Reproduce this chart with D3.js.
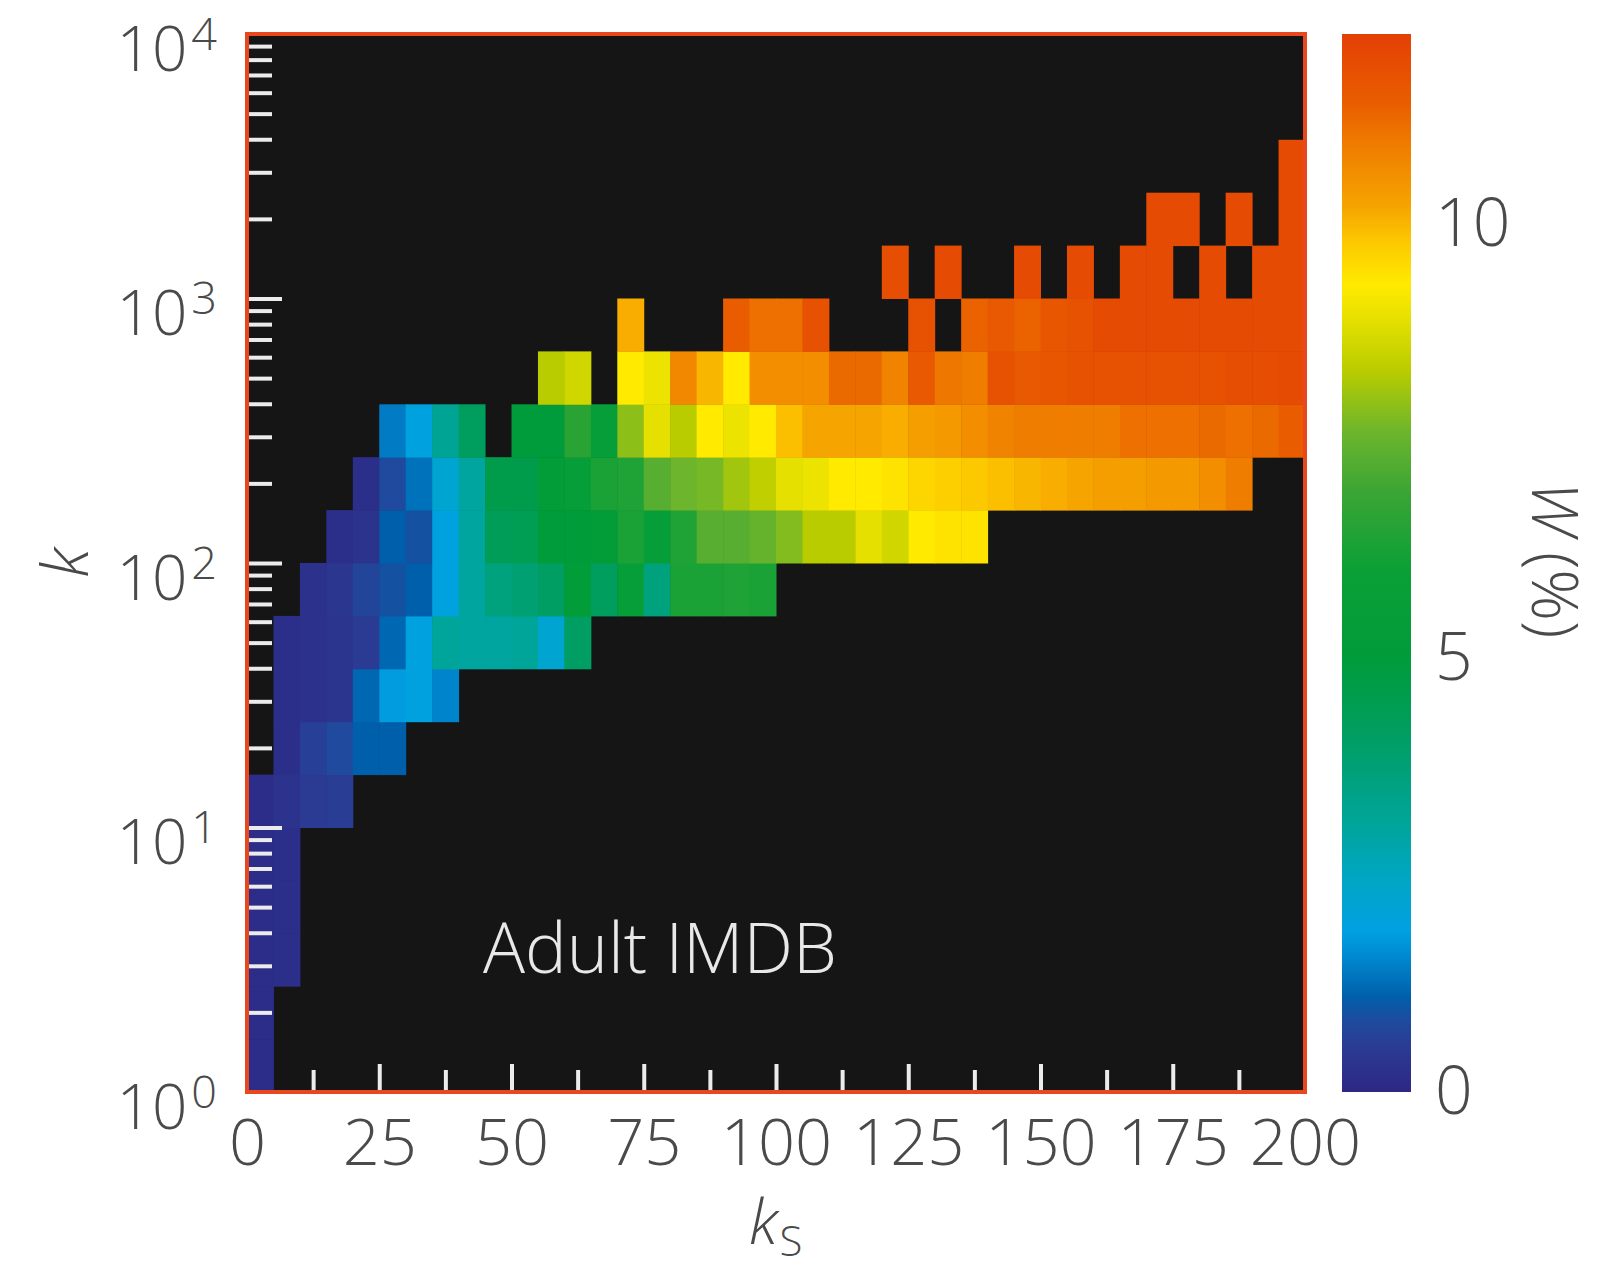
<!DOCTYPE html>
<html>
<head>
<meta charset="utf-8">
<script src="https://cdnjs.cloudflare.com/ajax/libs/d3/7.8.5/d3.min.js"></script>
<style>
  body { margin: 0; background: #fff; }
  svg text { font-family: "Open Sans", "Lato", sans-serif; }
</style>
</head>
<body>
<div id="chart"></div>
<script>
const _ = null;

// bin edges (k_S linear, k log in steps of 0.2 decade)
const ksEdges = [0, 5, 10, 15, 20, 25, 30, 35, 40, 45, 50, 55, 60, 65, 70, 75, 80, 85, 90, 95, 100,
  105, 110, 115, 120, 125, 130, 135, 140, 145, 150, 155, 160, 165, 170, 175, 180, 185, 190, 195, 200];
const kEdges = [1, 1.585, 2.512, 3.981, 6.310, 10, 15.85, 25.12, 39.81, 63.10, 100,
  158.5, 251.2, 398.1, 631.0, 1000, 1585, 2512, 3981, 6310, 10000];

// W (%) per cell, row 0 = lowest k bin, 40 k_S bins per row
const wGrid = [
  [0.15,_,_,_,_,_,_,_,_,_, _,_,_,_,_,_,_,_,_,_, _,_,_,_,_,_,_,_,_,_, _,_,_,_,_,_,_,_,_,_],
  [0.15,_,_,_,_,_,_,_,_,_, _,_,_,_,_,_,_,_,_,_, _,_,_,_,_,_,_,_,_,_, _,_,_,_,_,_,_,_,_,_],
  [0.15,0.2,_,_,_,_,_,_,_,_, _,_,_,_,_,_,_,_,_,_, _,_,_,_,_,_,_,_,_,_, _,_,_,_,_,_,_,_,_,_],
  [0.15,0.2,_,_,_,_,_,_,_,_, _,_,_,_,_,_,_,_,_,_, _,_,_,_,_,_,_,_,_,_, _,_,_,_,_,_,_,_,_,_],
  [0.15,0.2,_,_,_,_,_,_,_,_, _,_,_,_,_,_,_,_,_,_, _,_,_,_,_,_,_,_,_,_, _,_,_,_,_,_,_,_,_,_],
  [0.15,0.3,0.5,0.55,_,_,_,_,_,_, _,_,_,_,_,_,_,_,_,_, _,_,_,_,_,_,_,_,_,_, _,_,_,_,_,_,_,_,_,_],
  [_,0.2,0.6,0.8,1.1,1.1,_,_,_,_, _,_,_,_,_,_,_,_,_,_, _,_,_,_,_,_,_,_,_,_, _,_,_,_,_,_,_,_,_,_],
  [_,0.2,0.25,0.35,1.2,1.8,1.9,1.5,_,_, _,_,_,_,_,_,_,_,_,_, _,_,_,_,_,_,_,_,_,_, _,_,_,_,_,_,_,_,_,_],
  [_,0.2,0.25,0.35,0.5,1.2,1.9,3.1,3.0,3.0, 3.1,2.2,4.1,_,_,_,_,_,_,_, _,_,_,_,_,_,_,_,_,_, _,_,_,_,_,_,_,_,_,_],
  [_,_,0.25,0.4,0.7,0.9,1.1,1.9,3.0,3.6, 3.8,4.1,5.2,4.2,5.5,3.6,6.3,6.3,6.4,6.3, _,_,_,_,_,_,_,_,_,_, _,_,_,_,_,_,_,_,_,_],
  [_,_,_,0.2,0.3,1.1,0.9,1.9,3.0,4.3, 4.4,5.0,5.1,5.2,6.3,5.6,6.4,7.3,7.3,7.5, 7.8,8.3,8.3,8.9,8.6,9.3,9.4,9.4,_,_, _,_,_,_,_,_,_,_,_,_],
  [_,_,_,_,0.2,0.8,1.3,2.2,3.0,4.6, 4.6,5.2,5.5,6.3,6.4,7.3,7.6,7.7,8.1,8.4, 8.9,9.0,9.3,9.3,9.4,9.6,9.7,9.8,9.9,10.0, 10.1,10.2,10.3,10.3,10.4,10.4,10.6,10.9,_,_],
  [_,_,_,_,_,1.4,1.9,3.2,4.2,_, 5.0,5.0,6.6,5.5,7.9,8.9,8.3,9.3,9.0,9.3, 9.9,10.2,10.2,10.2,10.1,10.3,10.4,10.6,10.8,10.9, 10.9,10.9,10.9,11.1,11.1,11.1,11.2,11.1,11.2,11.4],
  [_,_,_,_,_,_,_,_,_,_, _,8.3,8.6,_,9.3,9.0,10.7,10.0,9.3,10.6, 10.6,10.6,11.2,11.2,10.8,11.5,11.0,10.9,11.7,11.5, 11.6,11.7,11.7,11.7,11.7,11.7,11.7,11.8,11.8,11.9],
  [_,_,_,_,_,_,_,_,_,_, _,_,_,_,10.1,_,_,_,11.4,11.1, 11.1,11.7,_,_,_,11.7,_,11.3,11.5,11.3, 11.6,11.7,11.9,11.9,11.9,11.9,11.9,11.9,11.9,11.9],
  [_,_,_,_,_,_,_,_,_,_, _,_,_,_,_,_,_,_,_,_, _,_,_,_,11.8,_,11.9,_,_,11.9, _,11.9,_,11.9,11.9,_,11.9,_,11.9,11.9],
  [_,_,_,_,_,_,_,_,_,_, _,_,_,_,_,_,_,_,_,_, _,_,_,_,_,_,_,_,_,_, _,_,_,_,11.9,11.9,_,11.9,_,11.9],
  [_,_,_,_,_,_,_,_,_,_, _,_,_,_,_,_,_,_,_,_, _,_,_,_,_,_,_,_,_,_, _,_,_,_,_,_,_,_,_,11.9],
  [_,_,_,_,_,_,_,_,_,_, _,_,_,_,_,_,_,_,_,_, _,_,_,_,_,_,_,_,_,_, _,_,_,_,_,_,_,_,_,_],
  [_,_,_,_,_,_,_,_,_,_, _,_,_,_,_,_,_,_,_,_, _,_,_,_,_,_,_,_,_,_, _,_,_,_,_,_,_,_,_,_]
];

// axes ticks / labels
const ksLabels = [0, 25, 50, 75, 100, 125, 150, 175, 200];
const ksTickVals = [12.5, 25, 37.5, 50, 62.5, 75, 87.5, 100, 112.5, 125, 137.5, 150, 162.5, 175, 187.5];
const kDecades = [1, 10, 100, 1000, 10000];
const wLabels = [0, 5, 10];
const wMax = 12.19;

// colour map
const cStops = [0, 0.5, 0.8, 1.1, 1.5, 1.85, 2.4, 3.1, 4.1, 5.0, 6.0, 6.9, 7.6, 8.3, 8.9, 9.3, 9.8, 10.2, 10.9, 11.4, 12.19];
const cColors = ["#2d2884", "#2b3a92", "#1f4a9d", "#005faa", "#0084cc", "#00a0e2", "#00a6c6", "#00a59a",
  "#009e62", "#009b3a", "#0aa036", "#3aa535", "#6cb52c", "#b8cc00", "#e6e000", "#ffea00", "#fcc800",
  "#f6a400", "#ef7d00", "#e95d00", "#e44005"];

const W = 1621, H = 1273;
const plot = { left: 247, top: 34, size: 1058 };
const bar = { left: 1342, width: 69 };
const labelColor = "#4a4a4a";
const frameColor = "#e9481e";

const svg = d3.select("#chart").append("svg")
  .attr("width", W).attr("height", H);

const x = d3.scaleLinear().domain([0, 200]).range([plot.left, plot.left + plot.size]);
const y = d3.scaleLog().domain([1, 1e4]).range([plot.top + plot.size, plot.top]);
const color = d3.scaleLinear().domain(cStops).range(cColors).interpolate(d3.interpolateRgb).clamp(true);
const cy = d3.scaleLinear().domain([0, wMax]).range([plot.top + plot.size, plot.top]);

// background
svg.append("rect")
  .attr("x", plot.left).attr("y", plot.top)
  .attr("width", plot.size).attr("height", plot.size)
  .attr("fill", "#151515");

// cells
const cells = [];
wGrid.forEach(function(row, r) {
  row.forEach(function(w, c) {
    if (w !== null) cells.push({ r: r, c: c, w: w });
  });
});

svg.append("g").selectAll("rect").data(cells).join("rect")
  .attr("x", d => x(ksEdges[d.c]))
  .attr("width", d => x(ksEdges[d.c + 1]) - x(ksEdges[d.c]) + 0.5)
  .attr("y", d => y(kEdges[d.r + 1]))
  .attr("height", d => y(kEdges[d.r]) - y(kEdges[d.r + 1]) + 0.5)
  .attr("fill", d => color(d.w));

// inner white ticks, k axis
const isDecade = v => Math.abs(Math.log10(v) - Math.round(Math.log10(v))) < 1e-6;
const yTicks = svg.append("g")
  .attr("transform", "translate(" + plot.left + ",0)")
  .call(d3.axisRight(y).tickValues(y.ticks().filter(v => v > 1 && v < 1e4)).tickFormat(""));
yTicks.select(".domain").remove();
yTicks.selectAll(".tick line")
  .attr("x1", 2)
  .attr("x2", d => isDecade(d) ? 35 : 25)
  .attr("stroke", "#ececec")
  .attr("stroke-width", 4);

// inner white ticks, k_S axis
const xTicks = svg.append("g")
  .attr("transform", "translate(0," + (plot.top + plot.size) + ")")
  .call(d3.axisTop(x).tickValues(ksTickVals).tickFormat(""));
xTicks.select(".domain").remove();
xTicks.selectAll(".tick line")
  .attr("y1", -2)
  .attr("y2", d => d % 25 === 0 ? -28 : -22)
  .attr("stroke", "#ececec")
  .attr("stroke-width", 4);

// frame
svg.append("rect")
  .attr("x", plot.left).attr("y", plot.top)
  .attr("width", plot.size).attr("height", plot.size)
  .attr("fill", "none")
  .attr("stroke", frameColor)
  .attr("stroke-width", 4);

// x labels
const xLab = svg.append("g")
  .attr("transform", "translate(0," + (plot.top + plot.size) + ")")
  .call(d3.axisBottom(x).tickValues(ksLabels).tickSize(0));
xLab.select(".domain").remove();
xLab.attr("font-family", null).attr("font-size", null);
xLab.selectAll(".tick text")
  .attr("y", 73).attr("dy", null)
  .attr("font-size", 65).attr("font-weight", 300)
  .attr("fill", labelColor);

// y labels 10^n
const yLab = svg.append("g")
  .attr("transform", "translate(" + plot.left + ",0)")
  .call(d3.axisLeft(y).tickValues(kDecades).tickSize(0).tickFormat(""));
yLab.select(".domain").remove();
yLab.attr("font-family", null).attr("font-size", null);
yLab.selectAll(".tick text").each(function(d) {
  const t = d3.select(this)
    .attr("x", -30).attr("y", 36).attr("dy", null)
    .attr("font-size", 62).attr("font-weight", 300)
    .attr("fill", labelColor);
  t.append("tspan").text("10");
  t.append("tspan").attr("dx", 4).attr("dy", -21).attr("font-size", 45)
    .text(Math.round(Math.log10(d)));
});

// axis titles
svg.append("text")
  .attr("transform", "translate(88,563) rotate(-90)")
  .attr("text-anchor", "middle")
  .attr("font-size", 64).attr("font-style", "italic").attr("font-weight", 300)
  .attr("fill", labelColor)
  .text("k");

const ksTitle = svg.append("text")
  .attr("x", 749).attr("y", 1244)
  .attr("font-size", 62).attr("font-weight", 300)
  .attr("fill", labelColor);
ksTitle.append("tspan").attr("font-style", "italic").text("k");
ksTitle.append("tspan").attr("font-size", 42).attr("dy", 12).attr("dx", 2).text("S");

// panel label
svg.append("text")
  .attr("x", 483).attr("y", 973)
  .attr("font-size", 70).attr("font-weight", 300)
  .attr("fill", "#e8e8e8")
  .text("Adult IMDB");

// colour bar
const grad = svg.append("defs").append("linearGradient")
  .attr("id", "wgrad")
  .attr("x1", 0).attr("x2", 0).attr("y1", 1).attr("y2", 0);
grad.selectAll("stop").data(cStops).join("stop")
  .attr("offset", d => d / wMax)
  .attr("stop-color", (d, i) => cColors[i]);

svg.append("rect")
  .attr("x", bar.left).attr("y", plot.top)
  .attr("width", bar.width).attr("height", plot.size)
  .attr("fill", "url(#wgrad)");

const cLab = svg.append("g")
  .attr("transform", "translate(" + (bar.left + bar.width) + ",0)")
  .call(d3.axisRight(cy).tickValues(wLabels).tickSize(0));
cLab.select(".domain").remove();
cLab.attr("font-family", null).attr("font-size", null);
cLab.selectAll(".tick text")
  .attr("x", 24).attr("y", 21).attr("dy", null)
  .attr("font-size", 66).attr("font-weight", 300)
  .attr("fill", labelColor);

const wTitle = svg.append("text")
  .attr("transform", "translate(1532,560) rotate(90)")
  .attr("text-anchor", "middle")
  .attr("font-size", 64).attr("font-weight", 300)
  .attr("fill", labelColor);
wTitle.append("tspan").attr("font-style", "italic").text("W");
wTitle.append("tspan").text(" (%)");
</script>
</body>
</html>
